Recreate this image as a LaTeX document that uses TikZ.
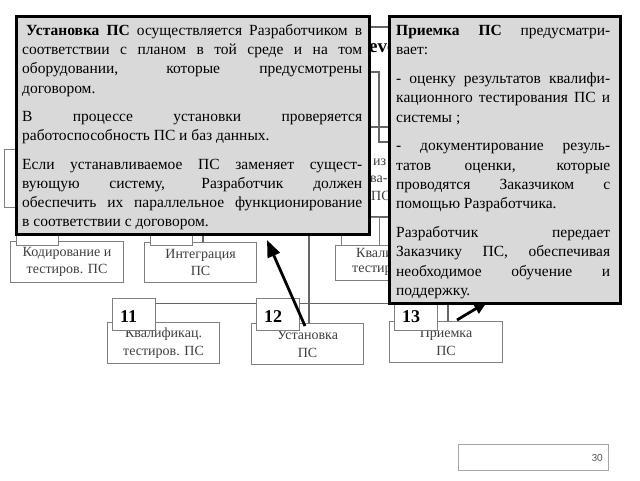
\documentclass[tikz,border=0pt]{standalone}
\usepackage{fontspec}
\setmainfont{Liberation Serif}
\newfontfamily\pagefont{Carlito}
\usetikzlibrary{arrows.meta}
\definecolor{popfill}{HTML}{D9D9D9}
\definecolor{boxline}{HTML}{7F7F7F}
\definecolor{boxtext}{HTML}{3F3F3F}
\definecolor{pgline}{HTML}{A6A6A6}
\newlength\jlw
\newcommand\jl[1]{\hbox to \jlw{#1}\par}
\newcommand\lastline[1]{\hbox{#1}\par}
\newcommand\spacing{\spaceskip=0.25em plus 3em\relax\xspaceskip=0.25em plus 3em\relax}
\begin{document}
\begin{tikzpicture}[x=1pt,y=-1pt,
  stage/.style={draw=boxline, line width=1.1pt, fill=white, rectangle, inner sep=0pt,
    anchor=north west, font=\fontsize{14}{17.5}\selectfont, text=boxtext, align=center},
  tabbox/.style={draw=boxline, line width=1.1pt, fill=white, rectangle, inner sep=0pt,
    anchor=north west, minimum width=43pt, minimum height=32pt},
  num/.style={anchor=west, inner sep=0pt, font=\fontsize{18}{18}\selectfont\bfseries},
  conn/.style={draw=boxline!80!black, line width=1.1pt},
  frag/.style={inner sep=0pt, font=\fontsize{14}{17.5}\selectfont, text=boxtext},
  popup/.style={draw=black, line width=2.6pt, fill=popfill, rectangle, inner sep=0pt, anchor=north west},
  poptext/.style={anchor=north west, inner sep=0pt, font=\fontsize{15.5}{19.3}\selectfont},
  bigarrow/.style={line width=2.8pt, draw=black}
]
\useasboundingbox (0,0) rectangle (640,480);
\fill[white] (0,0) rectangle (640,480);

% ---- background diagram ----
\node[font=\fontsize{19}{19}\selectfont\bfseries, anchor=west, inner sep=0pt] (title) at (369,48) {eve};
\draw[conn] (355,27) -- (396,27);
\draw[conn] (355,72) -| (379,142) -- (396,142);
\draw[conn] (355,127) -- (396,127);
\draw[conn] (355,217) -- (396,217);
\node[frag, anchor=west] (f1) at (373,162) {из};
\node[frag, anchor=west] (f2) at (370,179) {ва-};
\node[frag, anchor=west] (f3) at (371,196) {ПС};

\node[stage, minimum width=116pt, minimum height=58pt] (left) at (4,149) {};

\coordinate (up12) at (309,150);
\coordinate (up203) at (203,200);
\coordinate (kvbot) at (448,280);

\node[stage, minimum width=113pt, minimum height=41pt] (cod) at (10,241) {Кодирование и\\тестиров. ПС};
\node[stage, minimum width=112pt, minimum height=40pt] (integ) at (144,242) {Интеграция\\ПС};
\node[stage, minimum width=114pt, minimum height=35pt] (kval2) at (335,245) {};
\node[frag, anchor=west] (kq1) at (356,253) {Квали};
\node[frag, anchor=west] (kq2) at (352,271) {тестир};
\node[tabbox, minimum width=42pt, minimum height=32pt] (tcod) at (16,213) {};
\node[tabbox, minimum width=42pt, minimum height=32pt] (tint) at (150,213) {};
\node[tabbox, minimum width=38pt, minimum height=28pt] (tkv) at (341,217) {};
\draw[conn] (up203) -- (integ.north -| up203);

\node[stage, minimum width=112pt, minimum height=41pt] (b11) at (107,322) {Квалификац.\\тестиров. ПС};
\node[stage, minimum width=112pt, minimum height=41pt] (b12) at (251,323) {Установка\\ПС};
\node[stage, minimum width=113pt, minimum height=41pt] (b13) at (389,321) {Приемка\\ПС};

\draw[conn] (up12) -- (b12.north -| up12);
\draw[conn] (kvbot) -- (b13.north -| kvbot);

\node[tabbox] (t11) at (112,298) {};
\node[tabbox] (t12) at (256,298) {};
\node[tabbox] (t13) at (394,298) {};
\node[num] (n11) at ([xshift=8pt,yshift=-2pt]t11.west) {11};
\node[num] (n12) at ([xshift=8pt,yshift=-2pt]t12.west) {12};
\node[num] (n13) at ([xshift=8pt,yshift=-2pt]t13.west) {13};
\draw[conn] ([yshift=11pt]t11.east) -- ([yshift=11pt]t12.west);
\draw[conn] ([yshift=11pt]t12.east) -- ([yshift=11pt]t13.west);

% ---- popups ----
\node[popup, minimum width=353pt, minimum height=218pt] (pop1) at (15,15) {};
\node[poptext, text width=340pt] (txt1) at (22,24) {%
\setlength{\parskip}{0pt}\setlength{\jlw}{340pt}\spacing
\jl{\hspace{4pt}\textbf{Установка ПС} осуществляется Разработчиком в}
\jl{соответствии с планом в той среде и на том}
\jl{оборудовании, которые предусмотрены}
\lastline{договором.}
\vspace{9pt}
\jl{В процессе установки проверяется}
\lastline{работоспособность ПС и баз данных.}
\vspace{9pt}
\jl{Если устанавливаемое ПС заменяет сущест-}
\jl{вующую систему, Разработчик должен}
\jl{обеспечить их параллельное функционирование}
\lastline{в соответствии с договором.}};

\node[popup, minimum width=231pt, minimum height=287pt] (pop2) at (388,15) {};
\node[poptext, text width=214pt] (txt2) at (396,25) {%
\setlength{\parskip}{0pt}\setlength{\jlw}{214pt}\spacing
\jl{\textbf{Приемка ПС} предусматри-}
\lastline{вает:}
\vspace{9.5pt}
\jl{- оценку результатов квалифи-}
\jl{кационного тестирования ПС и}
\lastline{системы ;}
\vspace{9.5pt}
\jl{- документирование резуль-}
\jl{татов оценки, которые}
\jl{проводятся Заказчиком с}
\lastline{помощью Разработчика.}
\vspace{9.5pt}
\jl{Разработчик передает}
\jl{Заказчику ПС, обеспечивая}
\jl{необходимое обучение и}
\lastline{поддержку.}};

% ---- arrows ----
\coordinate (a1s) at (305,326);
\coordinate (a1e) at (267,240);
\coordinate (a2s) at (457,320);
\coordinate (a2e) at (487,302);
\draw[bigarrow, -{Triangle[length=17pt,width=13pt]}] (a1s) -- (a1e);
\draw[bigarrow, -{Triangle[length=13pt,width=11pt]}] (a2s) -- (a2e);

% ---- page number ----
\node[draw=pgline, line width=1pt, anchor=north west, minimum width=150pt, minimum height=26pt, inner sep=0pt] (pg) at (458,444) {};
\node[anchor=east, inner sep=0pt, font=\pagefont\fontsize{11}{11}\selectfont, text=black!65] (pgn) at ([xshift=-6pt]pg.east) {30};
\end{tikzpicture}
\end{document}
